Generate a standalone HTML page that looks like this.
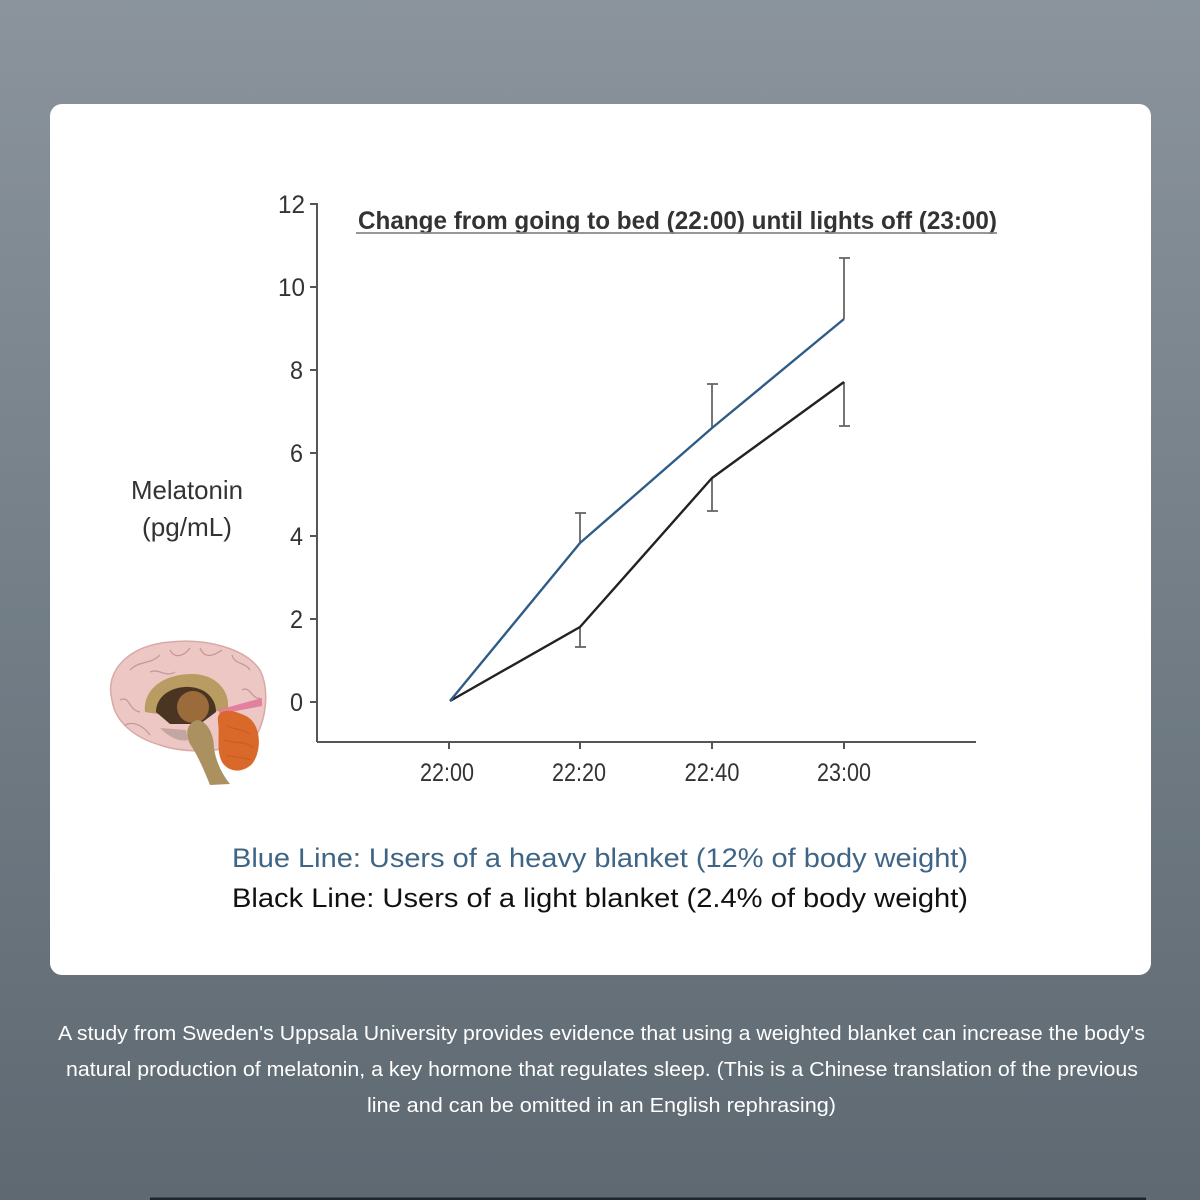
<!DOCTYPE html>
<html>
<head>
<meta charset="utf-8">
<style>
html,body{margin:0;padding:0;}
body{width:1200px;height:1200px;overflow:hidden;}
svg{display:block;}
</style>
</head>
<body>
<svg width="1200" height="1200" viewBox="0 0 1200 1200" xmlns="http://www.w3.org/2000/svg">
<defs>
<linearGradient id="bg" x1="0" y1="0" x2="0" y2="1">
<stop offset="0" stop-color="#8b949c"/>
<stop offset="0.5" stop-color="#737e87"/>
<stop offset="1" stop-color="#5e6972"/>
</linearGradient>
</defs>
<rect x="0" y="0" width="1200" height="1200" fill="url(#bg)"/>
<rect x="50" y="104" width="1101" height="871" rx="12" ry="12" fill="#ffffff"/>
<line x1="150" y1="1199" x2="1146" y2="1199" stroke="#1c2630" stroke-width="3"/>

<!-- title -->
<text x="358" y="229" font-family="Liberation Sans, Arial, sans-serif" font-weight="bold" font-size="25" fill="#333" textLength="639" lengthAdjust="spacingAndGlyphs">Change from going to bed (22:00) until lights off (23:00)</text>
<line x1="356" y1="233" x2="997" y2="233" stroke="#888" stroke-width="1.8"/>

<!-- axes -->
<g stroke="#555" stroke-width="2" fill="none">
<line x1="317" y1="203" x2="317" y2="742"/>
<line x1="317" y1="742" x2="976" y2="742"/>
<line x1="310" y1="204" x2="317" y2="204"/>
<line x1="310" y1="287" x2="317" y2="287"/>
<line x1="310" y1="370" x2="317" y2="370"/>
<line x1="310" y1="453" x2="317" y2="453"/>
<line x1="310" y1="536" x2="317" y2="536"/>
<line x1="310" y1="619" x2="317" y2="619"/>
<line x1="310" y1="702" x2="317" y2="702"/>
<line x1="449" y1="742" x2="449" y2="749"/>
<line x1="580" y1="742" x2="580" y2="749"/>
<line x1="712" y1="742" x2="712" y2="749"/>
<line x1="844" y1="742" x2="844" y2="749"/>
</g>

<g font-family="Liberation Sans, Arial, sans-serif" font-size="25" fill="#333" text-anchor="end">
<text x="305" y="213" textLength="27" lengthAdjust="spacingAndGlyphs">12</text>
<text x="305" y="296" textLength="27" lengthAdjust="spacingAndGlyphs">10</text>
<text x="303" y="379" textLength="13" lengthAdjust="spacingAndGlyphs">8</text>
<text x="303" y="462" textLength="13" lengthAdjust="spacingAndGlyphs">6</text>
<text x="303" y="545" textLength="13" lengthAdjust="spacingAndGlyphs">4</text>
<text x="303" y="628" textLength="13" lengthAdjust="spacingAndGlyphs">2</text>
<text x="303" y="711" textLength="13" lengthAdjust="spacingAndGlyphs">0</text>
</g>

<g font-family="Liberation Sans, Arial, sans-serif" font-size="25" fill="#333" text-anchor="middle">
<text x="447" y="781" textLength="54" lengthAdjust="spacingAndGlyphs">22:00</text>
<text x="579" y="781" textLength="54" lengthAdjust="spacingAndGlyphs">22:20</text>
<text x="712" y="781" textLength="55" lengthAdjust="spacingAndGlyphs">22:40</text>
<text x="844" y="781" textLength="54" lengthAdjust="spacingAndGlyphs">23:00</text>
</g>

<g font-family="Liberation Sans, Arial, sans-serif" font-size="26" fill="#333" text-anchor="middle">
<text x="187" y="499" textLength="112" lengthAdjust="spacingAndGlyphs">Melatonin</text>
<text x="187" y="536" textLength="90" lengthAdjust="spacingAndGlyphs">(pg/mL)</text>
</g>

<!-- error bars -->
<g stroke="#666" stroke-width="1.8" fill="none">
<line x1="580" y1="513" x2="580" y2="543"/><line x1="575" y1="513" x2="586" y2="513"/>
<line x1="712" y1="384" x2="712" y2="428"/><line x1="707" y1="384" x2="718" y2="384"/>
<line x1="844" y1="258" x2="844" y2="319"/><line x1="839" y1="258" x2="850" y2="258"/>
<line x1="580" y1="627" x2="580" y2="647"/><line x1="575" y1="647" x2="586" y2="647"/>
<line x1="712" y1="478" x2="712" y2="511"/><line x1="707" y1="511" x2="718" y2="511"/>
<line x1="844" y1="382" x2="844" y2="426"/><line x1="839" y1="426" x2="850" y2="426"/>
</g>

<!-- series -->
<polyline points="450,701 580,627 712,478 844,382" fill="none" stroke="#222" stroke-width="2.4" stroke-linejoin="round"/>
<polyline points="450,701 580,543 712,428 844,319" fill="none" stroke="#2f5c86" stroke-width="2.4" stroke-linejoin="round"/>

<!-- legend -->
<text x="232" y="867" font-family="Liberation Sans, Arial, sans-serif" font-size="27" fill="#3f6586" textLength="736" lengthAdjust="spacingAndGlyphs">Blue Line: Users of a heavy blanket (12% of body weight)</text>
<text x="232" y="907" font-family="Liberation Sans, Arial, sans-serif" font-size="27" fill="#111" textLength="736" lengthAdjust="spacingAndGlyphs">Black Line: Users of a light blanket (2.4% of body weight)</text>

<!-- bottom text -->
<g font-family="Liberation Sans, Arial, sans-serif" font-size="20" fill="#ffffff">
<text x="58" y="1040" textLength="1087" lengthAdjust="spacingAndGlyphs">A study from Sweden's Uppsala University provides evidence that using a weighted blanket can increase the body's</text>
<text x="66" y="1076" textLength="1072" lengthAdjust="spacingAndGlyphs">natural production of melatonin, a key hormone that regulates sleep. (This is a Chinese translation of the previous</text>
<text x="367" y="1112" textLength="469" lengthAdjust="spacingAndGlyphs">line and can be  omitted in an English rephrasing)</text>
</g>

<!-- brain illustration -->
<g>
<path d="M112,700 C104,670 130,645 170,642 C205,638 245,648 260,670 C270,690 266,720 255,738 L230,748 C205,752 180,752 160,745 C135,738 115,722 112,700 Z" fill="#ecc7c3" stroke="#d8aaa6" stroke-width="1.5"/>
<g stroke="#b88a88" stroke-width="1.2" fill="none" opacity="0.8">
<path d="M130,670 C140,660 150,665 160,655"/>
<path d="M170,650 C175,660 185,655 190,648"/>
<path d="M200,648 C205,660 215,655 222,650"/>
<path d="M232,655 C235,665 245,662 250,670"/>
<path d="M120,700 C130,695 128,710 140,712"/>
<path d="M125,725 C135,720 145,728 150,735"/>
<path d="M150,672 C160,668 165,678 175,672"/>
<path d="M242,690 C250,685 252,700 260,698"/>
</g>
<path d="M145,712 C143,688 165,674 192,674 C215,674 230,690 228,708 L214,712 C212,696 200,686 188,687 C170,688 156,700 158,714 Z" fill="#b99c62"/>
<path d="M156,712 C156,696 172,686 190,687 C205,688 216,698 216,712 L200,724 L170,724 Z" fill="#4a3522"/>
<circle cx="193" cy="707" r="16" fill="#9c6b3c"/>
<path d="M160,728 C170,738 180,742 188,740 L186,730 Z" fill="#c2a6a0"/>
<path d="M218,710 L262,698 L262,706 L220,714 Z" fill="#e27396" opacity="0.85"/>
<path d="M218,722 C216,706 234,710 246,716 C262,724 262,752 252,764 C242,774 228,772 222,762 C216,750 220,738 218,722 Z" fill="#d9692a"/>
<g stroke="#c2561e" stroke-width="1" fill="none" opacity="0.7">
<path d="M226,725 C234,730 240,728 250,734"/>
<path d="M224,740 C234,744 244,740 254,748"/>
<path d="M226,755 C234,758 242,756 250,760"/>
</g>
<path d="M198,720 C208,722 214,735 214,748 C216,762 222,774 230,784 L210,785 C204,770 198,756 190,744 C184,732 188,722 198,720 Z" fill="#ab9160"/>
</g>
</svg>
</body>
</html>
